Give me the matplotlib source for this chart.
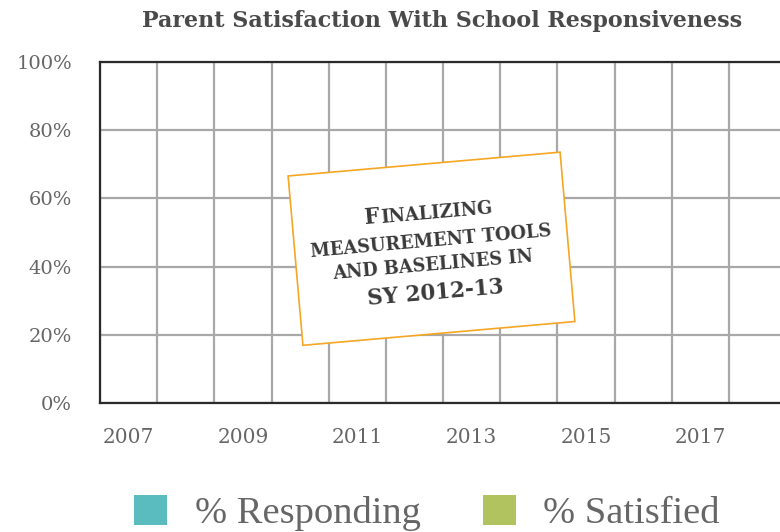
import numpy as np
import matplotlib
matplotlib.use("Agg")
import matplotlib.pyplot as plt
from matplotlib.patches import Rectangle
from matplotlib.font_manager import FontProperties

# ---- data ----
years = [2007, 2008, 2009, 2010, 2011, 2012, 2013, 2014, 2015, 2016, 2017, 2018]
pct_responding = [np.nan] * 12   # no data reported yet
pct_satisfied = [np.nan] * 12
year_labels = ["2007", "2009", "2011", "2013", "2015", "2017"]
y_ticks = [0, 20, 40, 60, 80, 100]
series_names = ["% Responding", "% Satisfied"]
title = "Parent Satisfaction With School Responsiveness"
note_lines = ["FINALIZING", "MEASUREMENT TOOLS", "AND BASELINES IN", "SY 2012-13"]

W, H, DPI = 780, 532, 100
fig = plt.figure(figsize=(W / DPI, H / DPI), dpi=DPI)
fig.patch.set_facecolor("white")

serif = "DejaVu Serif"
ax = fig.add_axes([100 / W, 1 - 403 / H, 686 / W, 341 / H])
x = np.array(years, dtype=float)
b1 = ax.bar(x - 0.2, pct_responding, width=0.4, color="#5bbcbf", label=series_names[0])
b2 = ax.bar(x + 0.2, pct_satisfied, width=0.4, color="#b0c35f", label=series_names[1])

ax.set_xlim(years[0] - 0.5, years[-1] + 0.5)
ax.set_ylim(0, 100)
ax.set_yticks(y_ticks)
ax.set_yticklabels([f"{v}%" for v in y_ticks])
ax.set_xticks([int(s) for s in year_labels])
ax.set_xticklabels(year_labels)
ax.set_xticks(np.arange(years[0] - 0.5, years[-1] + 0.6, 1.0), minor=True)
ax.tick_params(axis="both", which="both", length=0)
ax.tick_params(axis="y", pad=20, labelsize=14, labelcolor="#666666")
ax.tick_params(axis="x", pad=18, labelsize=14.5, labelcolor="#666666")
for lab in ax.get_xticklabels() + ax.get_yticklabels():
    lab.set_fontfamily(serif)

ax.grid(False)
ax.xaxis.grid(True, which="minor", color="#a8a8a8", linewidth=1.6)
ax.yaxis.grid(True, which="major", color="#a8a8a8", linewidth=1.6)
ax.set_axisbelow(True)
for side in ["top", "bottom", "left", "right"]:
    ax.spines[side].set_color("#2a2a2a")
    ax.spines[side].set_linewidth(1.6)

fig.text(442 / W, 1 - 21 / H, title, ha="center", va="center",
         fontsize=16, fontweight="bold", color="#4a4a4a", family=serif)

# ---- rotated note box ----
theta = 5.0
th = np.deg2rad(theta)
cx, cy = 431.5, H - 248.75
bw, bh = 273, 170
tr = fig.dpi_scale_trans
rect = Rectangle(((cx - bw / 2) / DPI, (cy - bh / 2) / DPI), bw / DPI, bh / DPI,
                 angle=theta, rotation_point="center", transform=tr,
                 facecolor="white", edgecolor="#f5a623", linewidth=1.2, zorder=5)
fig.add_artist(rect)

d = np.array([np.cos(th), np.sin(th)])
u = np.array([-np.sin(th), np.cos(th)])
renderer = fig.canvas.get_renderer()
big = FontProperties(family=serif, weight="bold", size=15.5)
small = FontProperties(family=serif, weight="bold", size=12.8)

def width_px(s, prop):
    w, h, dsc = renderer.get_text_width_height_descent(s, prop, ismath=False)
    return w

def put(s, prop, pos, ha):
    fig.text(pos[0] / DPI, pos[1] / DPI, s, transform=tr, fontproperties=prop,
             rotation=theta, rotation_mode="anchor", ha=ha, va="baseline",
             color="#3a3a3a", zorder=6)

C = np.array([cx, cy])
# line 1: small caps "Finalizing"
base1 = C + 30 * u
wF = width_px(note_lines[0][0], big)
wR = width_px(note_lines[0][1:], small)
start = base1 - (wF + wR) / 2 * d
put(note_lines[0][0], big, start, "left")
put(note_lines[0][1:], small, start + wF * d, "left")
put(note_lines[1], small, C + 2 * u, "center")
put(note_lines[2], small, C - 22 * u, "center")
put(note_lines[3], big, C - 50 * u, "center")

# ---- legend ----
leg = fig.legend(handles=[b1, b2], labels=series_names, loc="center",
                 bbox_to_anchor=(427 / W, 1 - 513 / H), ncol=2, frameon=False,
                 prop=FontProperties(family="Liberation Serif", size=27.7),
                 handlelength=0.85, handleheight=0.85, handletextpad=0.72,
                 columnspacing=1.62, labelcolor="#666666")
for hnd in leg.legend_handles:
    hnd.set_alpha(1)

fig.savefig("out.png", dpi=DPI)
